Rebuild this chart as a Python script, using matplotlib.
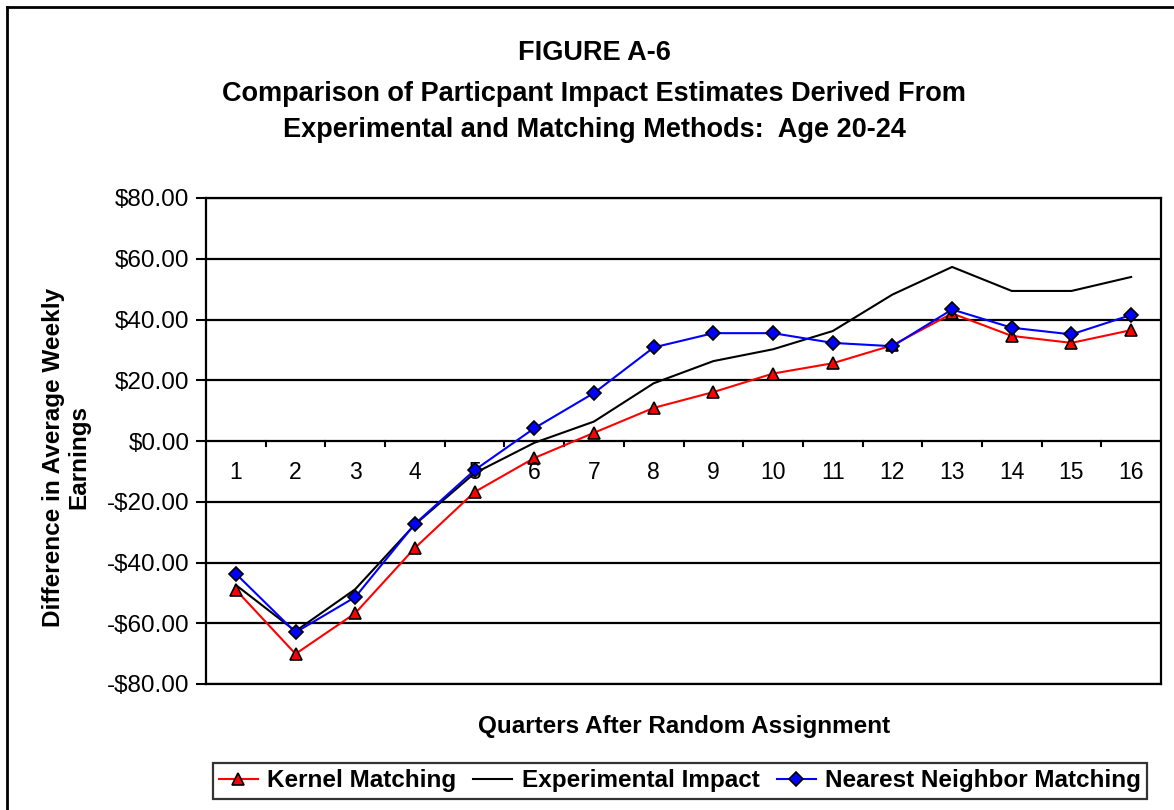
import matplotlib.pyplot as plt
import numpy as np
from matplotlib.lines import Line2D

plt.rcParams['font.family'] = ['Liberation Sans', 'DejaVu Sans']

# data
quarters = np.arange(1, 17)
kernel = [-49.0, -70.1, -56.7, -35.2, -16.8, -5.6, 2.7, 10.9, 16.1, 22.2, 25.6, 31.5, 42.0, 34.6, 32.3, 36.5]
experimental = [-47.4, -62.6, -48.8, -27.5, -10.6, -0.6, 6.4, 19.0, 26.3, 30.2, 36.2, 48.2, 57.3, 49.4, 49.4, 54.0]
nearest = [-43.7, -63.0, -51.4, -27.3, -9.6, 4.2, 15.8, 30.8, 35.5, 35.5, 32.3, 31.2, 43.3, 37.3, 35.1, 41.5]
yticks = np.arange(-80, 81, 20)

fig = plt.figure(figsize=(11.74, 8.10), dpi=100)
ax = fig.add_axes([206/1174, 1 - 684/810, (1161 - 206)/1174, (684 - 198)/810])

# outer chart frame
fig.add_artist(Line2D([7/1174, 7/1174], [0, 1 - 7/810], color='black', lw=2, transform=fig.transFigure))
fig.add_artist(Line2D([7/1174, 1], [1 - 7/810, 1 - 7/810], color='black', lw=2, transform=fig.transFigure))

for v in yticks:
    ax.axhline(v, color='black', lw=1.6, zorder=1)

ax.plot(quarters, kernel, color='red', lw=1.5, marker='^', ms=9,
        mfc='red', mec='black', mew=1.2, label='Kernel Matching', zorder=3)
ax.plot(quarters, experimental, color='black', lw=1.5, label='Experimental Impact', zorder=2)
ax.plot(quarters, nearest, color='blue', lw=1.5, marker='D', ms=7.5,
        mfc='blue', mec='black', mew=1.2, label='Nearest Neighbor Matching', zorder=4)

ax.set_xlim(0.5, 16.5)
ax.set_ylim(-80, 80)
ax.set_yticks(yticks)
ax.set_yticklabels([('-$%.2f' % -v) if v < 0 else ('$%.2f' % v) for v in yticks], fontsize=17.5)
ax.tick_params(axis='y', direction='out', length=7, width=1.5, pad=5)

# category labels just below the zero line, ticks between categories
ax.set_xticks([])
for q in quarters:
    ax.text(q, -10.3, str(q), ha='center', va='center', fontsize=16.5)
for b in np.arange(1.5, 16, 1):
    ax.plot([b, b], [0, -1.8], color='black', lw=1.5, zorder=1)

for s in ax.spines.values():
    s.set_linewidth(1.6)

fig.text(594/1174, 1 - 53/810, 'FIGURE A-6', ha='center', va='center', fontsize=19.5, fontweight='bold')
fig.text(594/1174, 1 - 94/810, 'Comparison of Particpant Impact Estimates Derived From',
         ha='center', va='center', fontsize=19.5, fontweight='bold')
fig.text(594/1174, 1 - 130/810, 'Experimental and Matching Methods:  Age 20-24',
         ha='center', va='center', fontsize=19.5, fontweight='bold')

fig.text(684/1174, 1 - 727/810, 'Quarters After Random Assignment',
         ha='center', va='center', fontsize=17.5, fontweight='bold')
fig.text(66/1174, 1 - 457/810, 'Difference in Average Weekly\nEarnings', rotation=90,
         ha='center', va='center', fontsize=17.5, fontweight='bold', linespacing=1.15)

leg = fig.legend(loc='center', bbox_to_anchor=(680/1174, 1 - 781/810), ncol=3,
                 prop={'weight': 'bold', 'size': 17.5}, frameon=True,
                 fancybox=False, edgecolor='black', handlelength=1.6,
                 handletextpad=0.4, columnspacing=0.7, borderpad=0.25)
leg.get_frame().set_linewidth(1.6)

fig.savefig('out.png', dpi=100)
